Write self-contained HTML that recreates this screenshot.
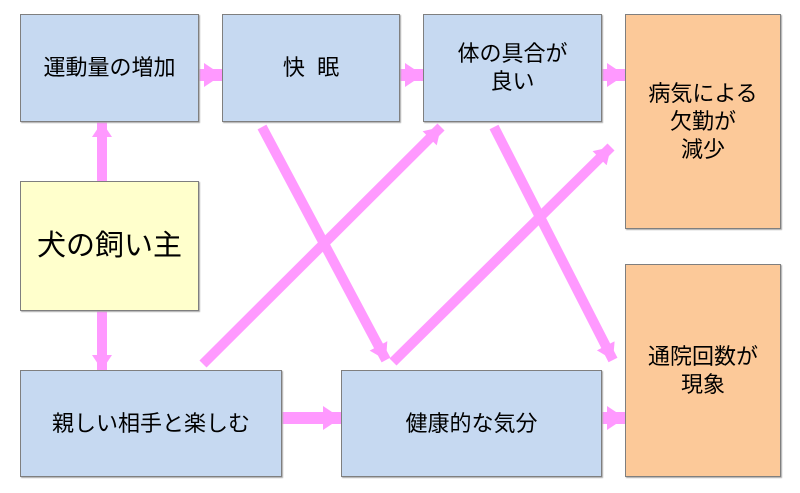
<!DOCTYPE html>
<html><head><meta charset="utf-8"><style>
body{margin:0;background:#fff;width:800px;height:493px;position:relative;overflow:hidden;font-family:"Liberation Sans","Noto Sans CJK JP",sans-serif;}
.b{position:absolute;box-sizing:border-box;border:1.5px solid #7f7f7f;background:#c6d9f1;display:flex;align-items:center;justify-content:center;text-align:center;font-size:22px;line-height:28px;color:#000;box-shadow:1px 1px 1px #aaa;}
.o{background:#fcc999;}
.y{background:#ffffcc;font-size:29px;}
svg{position:absolute;left:0;top:0;}
</style></head><body>
<svg width="800" height="493">
<defs>
<marker id="h" markerUnits="strokeWidth" markerWidth="1.5" markerHeight="2.0" refX="1.5" refY="1.0" orient="auto"><path d="M0,0 L1.5,1 L0,2 Z" fill="#ff99ff"/></marker>
<marker id="d" markerUnits="strokeWidth" markerWidth="1.6" markerHeight="2.0" refX="1.6" refY="1.0" orient="auto"><path d="M0,0 L1.6,1 L0,2 Z" fill="#ff99ff"/></marker>
</defs>
<g stroke="#ff99ff" fill="none">
<line x1="198" y1="75" x2="222" y2="75" stroke-width="12" marker-end="url(#h)"/>
<line x1="399" y1="75" x2="423" y2="75" stroke-width="12" marker-end="url(#h)"/>
<line x1="601" y1="75" x2="625" y2="75" stroke-width="12" marker-end="url(#h)"/>
<line x1="281" y1="418" x2="341" y2="418" stroke-width="12" marker-end="url(#h)"/>
<line x1="601" y1="418" x2="625" y2="418" stroke-width="12" marker-end="url(#h)"/>
<line x1="102" y1="181" x2="102" y2="122" stroke-width="10" marker-end="url(#h)"/>
<line x1="102" y1="310" x2="102" y2="370" stroke-width="10" marker-end="url(#h)"/>
<line x1="203" y1="364" x2="441" y2="127" stroke-width="10" marker-end="url(#d)"/>
<line x1="262" y1="127" x2="386" y2="360" stroke-width="10" marker-end="url(#d)"/>
<line x1="393" y1="362" x2="611" y2="147" stroke-width="10" marker-end="url(#d)"/>
<line x1="494" y1="127" x2="613" y2="360" stroke-width="10" marker-end="url(#d)"/>
</g>
</svg>
<div class="b" style="left:20px;top:14px;width:179px;height:108px;">運動量の増加</div>
<div class="b" style="left:222px;top:14px;width:178px;height:108px;">快&nbsp;&nbsp;眠</div>
<div class="b" style="left:423px;top:14px;width:179px;height:108px;">体の具合が<br>良い</div>
<div class="b o" style="left:625px;top:14px;width:156px;height:215px;">病気による<br>欠勤が<br>減少</div>
<div class="b y" style="left:20px;top:181px;width:179px;height:130px;">犬の飼い主</div>
<div class="b" style="left:20px;top:370px;width:262px;height:107px;">親しい相手と楽しむ</div>
<div class="b" style="left:341px;top:370px;width:261px;height:107px;">健康的な気分</div>
<div class="b o" style="left:625px;top:264px;width:156px;height:213px;">通院回数が<br>現象</div>
</body></html>
